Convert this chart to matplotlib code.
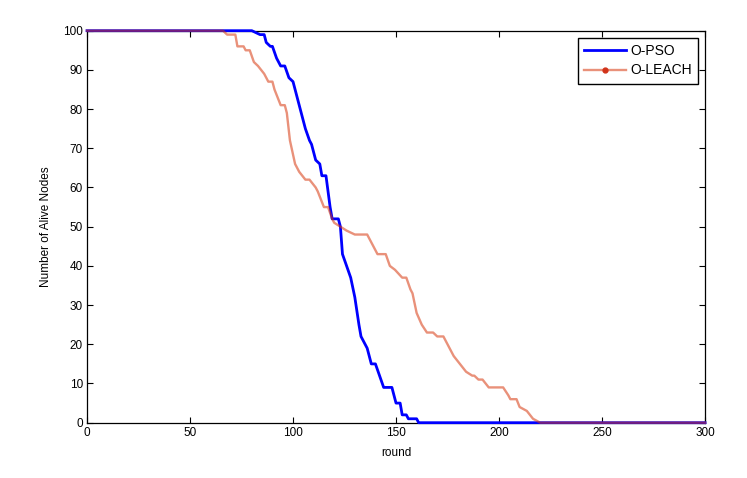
import matplotlib
matplotlib.use("Agg")
import matplotlib.pyplot as plt
from matplotlib.lines import Line2D

plt.rcParams['font.family'] = ['Liberation Sans', 'DejaVu Sans']

# O-PSO breakpoints (round, alive nodes)
pso_round = [0, 80, 84, 86, 87, 89, 90, 92, 94, 96, 98, 100, 102, 104, 106, 108, 109,
             111, 113, 114, 116, 118, 119, 122, 123, 124, 126, 128, 130, 132, 133, 136,
             138, 140, 142, 144, 148, 150, 152, 153, 155, 156, 160, 161, 300]
pso_alive = [100, 100, 99, 99, 97, 96, 96, 93, 91, 91, 88, 87, 83, 79, 75, 72, 71,
             67, 66, 63, 63, 55, 52, 52, 50, 43, 40, 37, 32, 25, 22, 19,
             15, 15, 12, 9, 9, 5, 5, 2, 2, 1, 1, 0, 0]

# O-LEACH breakpoints (round, alive nodes)
leach_round = [0, 66, 68, 72, 73, 76, 77, 79, 81, 83, 86, 88, 90, 91, 94, 96, 97, 98.5,
               101, 103, 106, 108, 111, 112, 115, 117, 119, 120, 126, 130, 136, 138, 141,
               145, 147, 149.5, 153, 155, 157, 158, 160, 162.5, 165, 168, 170, 173, 175,
               178, 181, 184, 187, 188, 190, 192, 195, 202, 204.5, 205.5, 208.5, 210,
               213.5, 216.5, 220, 300]
leach_alive = [100, 100, 99, 99, 96, 96, 95, 95, 92, 91, 89, 87, 87, 85, 81, 81, 79, 72,
               66, 64, 62, 62, 60, 59, 55, 55, 52, 51, 49, 48, 48, 46, 43,
               43, 40, 39, 37, 37, 34, 33, 28, 25, 23, 23, 22, 22, 20,
               17, 15, 13, 12, 12, 11, 11, 9, 9, 7, 6, 6, 4,
               3, 1, 0, 0]

x_ticks = [0, 50, 100, 150, 200, 250, 300]
y_ticks = [0, 10, 20, 30, 40, 50, 60, 70, 80, 90, 100]

fig = plt.figure(figsize=(7.47, 4.78), dpi=100)
ax = fig.add_axes([0.1165, 0.1157, 0.8273, 0.8201])

pso_col = (0, 0, 1)
leach_col = (0.845, 0.215, 0.05, 0.55)
ax.plot(pso_round, pso_alive, color=pso_col, lw=2.0, clip_on=False, zorder=3)
ax.plot(leach_round, leach_alive, color=leach_col, lw=1.7, clip_on=False, zorder=4)

ax.set_xlim(0, 300)
ax.set_ylim(0, 100)
ax.set_xticks(x_ticks)
ax.set_yticks(y_ticks)
ax.tick_params(direction='in', top=True, right=True, length=4, width=0.8,
               labelsize=8.5, colors='black', pad=3)
for s in ax.spines.values():
    s.set_linewidth(0.9)
    s.set_zorder(2)

ax.set_xlabel('round', fontsize=8.5, labelpad=6)
ax.set_ylabel('Number of Alive Nodes', fontsize=8.5, labelpad=8)

handles = [Line2D([], [], color=pso_col, lw=2.0),
           Line2D([], [], color=leach_col, lw=1.7, marker='o', markersize=3.5,
                  markerfacecolor=(0.82, 0.2, 0.1), markeredgecolor=(0.82, 0.2, 0.1))]
leg = ax.legend(handles, ['O-PSO', 'O-LEACH'], loc='upper right', fontsize=10,
                frameon=True, fancybox=False, edgecolor='black', framealpha=1,
                borderaxespad=0.5, handlelength=3.0, handletextpad=0.3,
                borderpad=0.45, labelspacing=0.4)
leg.get_frame().set_linewidth(1.0)
leg.set_zorder(5)

fig.savefig('out.png', dpi=100)
